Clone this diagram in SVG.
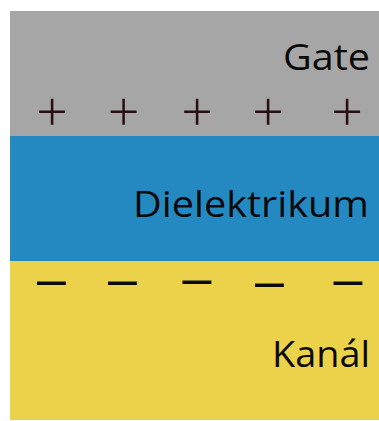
<svg xmlns="http://www.w3.org/2000/svg" width="379" height="421" viewBox="0 0 379 421">
<style>
.lbl{font-family:"Open Sans","Liberation Sans",sans-serif;font-size:37px;fill:#0a0a0a;text-anchor:end}
.plus{font-family:"Inter","DejaVu Sans",sans-serif;font-weight:200;font-size:60px;fill:#2a0f12;text-anchor:middle}
.minus{font-family:"Liberation Sans",sans-serif;font-size:52px;fill:#0a0a0a;text-anchor:middle}
</style>
<rect width="379" height="421" fill="#ffffff"/>
<g id="gate">
<rect x="10" y="11" width="369" height="125" fill="#a6a6a6"/>
<text class="lbl" x="370" y="70" textLength="87" lengthAdjust="spacingAndGlyphs">Gate</text>
<text class="plus" x="52" y="129">+</text>
<text class="plus" x="123.5" y="129">+</text>
<text class="plus" x="197" y="129">+</text>
<text class="plus" x="268" y="129">+</text>
<text class="plus" x="347" y="129">+</text>
</g>
<g id="dielektrikum">
<rect x="10" y="136" width="369" height="125" fill="#2489c1"/>
<text class="lbl" x="369" y="217" textLength="236" lengthAdjust="spacingAndGlyphs">Dielektrikum</text>
</g>
<g id="kanal">
<rect x="10" y="261" width="369" height="159" fill="#ebd24a"/>
<text class="lbl" x="370" y="367" textLength="98" lengthAdjust="spacingAndGlyphs">Kanál</text>
<text class="minus" x="51.5" y="296">–</text>
<text class="minus" x="122.5" y="296">–</text>
<text class="minus" x="197" y="295">–</text>
<text class="minus" x="269.5" y="298">–</text>
<text class="minus" x="348" y="296">–</text>
</g>
<g id="connectors"></g>
</svg>
